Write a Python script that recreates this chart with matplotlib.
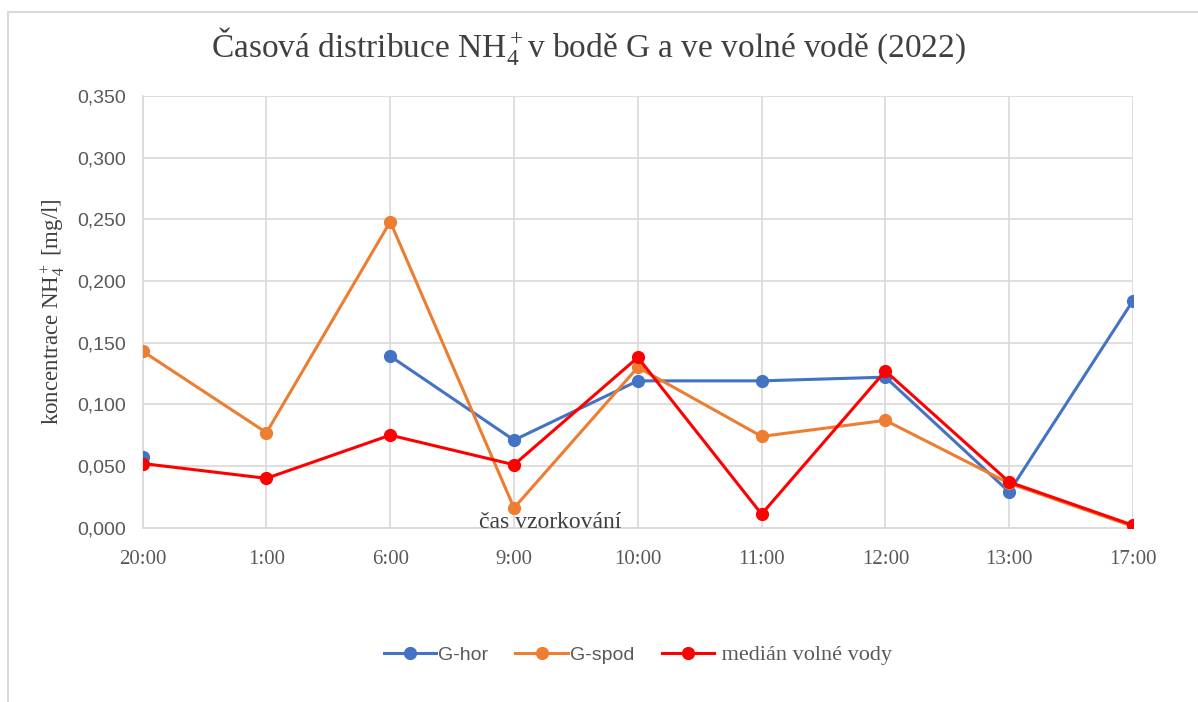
import numpy as np
import matplotlib
matplotlib.use("Agg")
import matplotlib.pyplot as plt
from matplotlib.lines import Line2D
from matplotlib.font_manager import FontProperties

# ── data ─────────────────────────────────────────────────────────────────────
times   = ["20:00", "1:00", "6:00", "9:00", "10:00", "11:00", "12:00", "13:00", "17:00"]
g_hor   = [0.057, np.nan, 0.139, 0.071, 0.119, 0.119, 0.122, 0.029, 0.184]
g_spod  = [0.143, 0.077, 0.248, 0.016, 0.130, 0.074, 0.087, 0.036, 0.001]
median  = [0.052, 0.040, 0.075, 0.051, 0.138, 0.011, 0.127, 0.037, 0.002]
y_ticks = [0.0, 0.05, 0.10, 0.15, 0.20, 0.25, 0.30, 0.35]

C_HOR, C_SPOD, C_MED = "#4472C4", "#ED7D31", "#FF0000"
GRID  = "#D9D9D9"
TXT   = "#595959"

plt.rcParams["mathtext.fontset"] = "custom"
plt.rcParams["mathtext.rm"] = "Liberation Serif"
plt.rcParams["mathtext.it"] = "Liberation Serif:italic"

serif = FontProperties(family="Liberation Serif", size=15)
sans  = FontProperties(family="Liberation Sans", size=14)

fig = plt.figure(figsize=(11.98, 7.02), dpi=100)
ax = fig.add_axes([0.1191, 0.2483, 0.8266, 0.6152])

x = np.arange(len(times))
kw = dict(linewidth=2.2, marker="o", markersize=8.5)
ax.plot(x, g_hor, color=C_HOR, label="G-hor", zorder=3, **kw)
ax.plot(x, g_spod, color=C_SPOD, label="G-spod", zorder=4, **kw)
ax.plot(x, median, color=C_MED, label=" medián volné vody", zorder=5, **kw)

ax.set_xlim(0, len(times) - 1)
ax.set_ylim(0, 0.35)
ax.set_xticks(x)
ax.set_xticklabels(times, fontproperties=serif, color=TXT)
ax.set_yticks(y_ticks)
ax.set_yticklabels([f"{v:.3f}".replace(".", ",") for v in y_ticks],
                   fontproperties=sans, color=TXT)
ax.tick_params(axis="both", length=0)
ax.tick_params(axis="y", pad=12)
ax.tick_params(axis="x", pad=16)

ax.grid(True, color=GRID, linewidth=1.2)
ax.set_axisbelow(True)
for side in ["top", "right"]:
    ax.spines[side].set_visible(False)
for side in ["left", "bottom"]:
    ax.spines[side].set_color(GRID)
    ax.spines[side].set_linewidth(1.2)

ax.set_ylabel(r"koncentrace NH$_4^+$ [mg/l]", fontproperties=serif, color="#404040",
              fontsize=16.5)
ax.yaxis.set_label_coords(-0.0764, 0.5)

# axis title sits inside the plot area, right on the baseline
ax.text(0.412, 0.0, "čas vzorkování", transform=ax.transAxes, ha="center", va="baseline",
        fontproperties=serif, fontsize=17, color="#404040", zorder=6)

fig.text(0.491, 0.935, r"Časová distribuce NH$_4^+\!\!$ v bodě G a ve volné vodě (2022)",
         ha="center", va="center", family="Liberation Serif", size=24, color="#404040")

leg = ax.legend(loc="center", bbox_to_anchor=(0.5, -0.295), ncol=3, frameon=False,
                handlelength=2.7, handletextpad=0.1, columnspacing=1.4, prop=sans)
for t in leg.get_texts():
    t.set_color(TXT)
leg.get_texts()[2].set_fontproperties(serif)
leg.get_texts()[2].set_fontsize(16)

# light frame around the chart area
fig.add_artist(Line2D([8 / 1198, 8 / 1198], [0, 1 - 12 / 702], color=GRID,
                      linewidth=1.5, transform=fig.transFigure))
fig.add_artist(Line2D([8 / 1198, 1], [1 - 12 / 702, 1 - 12 / 702], color=GRID,
                      linewidth=1.5, transform=fig.transFigure))

fig.savefig("out.png", dpi=100)
